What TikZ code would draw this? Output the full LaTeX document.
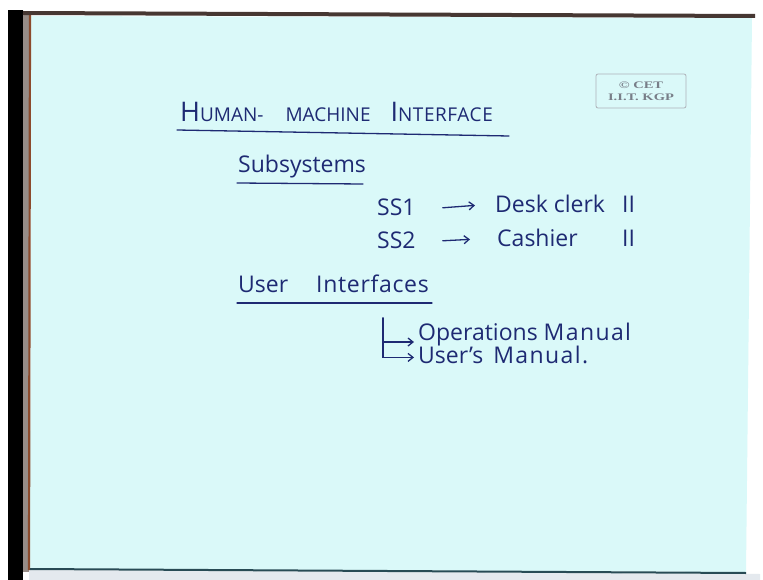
\documentclass[tikz,border=0pt]{standalone}
\usepackage{fontspec}
\setmainfont{Open Sans}
\newfontfamily\stampfont{Liberation Serif}
\usetikzlibrary{arrows.meta}
\definecolor{slide}{RGB}{218,249,249}
\definecolor{ink}{RGB}{30,42,115}
\definecolor{stampgray}{RGB}{120,126,136}
\definecolor{frame}{RGB}{70,55,50}
\definecolor{woodedge}{RGB}{140,75,45}
\definecolor{bottomedge}{RGB}{40,75,85}
\definecolor{sidegray}{RGB}{150,140,135}
\definecolor{floorgray}{RGB}{228,233,238}
% wider, hand-like spacing for a word
\newcommand{\wide}[2]{{\addfontfeature{LetterSpace=#1}#2}}
\begin{document}
\begin{tikzpicture}[x=1pt,y=-1pt,
  hand/.style={text=ink,inner sep=0pt,anchor=base west,font=\fontsize{23}{26}\selectfont},
  penline/.style={draw=ink,line width=1.3pt,line cap=round},
  penarrow/.style={penline,-{Straight Barb[length=5pt,width=8pt]}}]
\useasboundingbox (0,0) rectangle (763,580);
% surroundings of the slide
\fill[white] (0,0) rectangle (763,580);
\fill[black] (8,10) rectangle (23,580);
\fill[sidegray] (23,12) rectangle (29,572);
\fill[floorgray] (29,570) -- (760,574) -- (760,580) -- (29,580) -- cycle;
% the slide sheet
\fill[slide] (31,16) -- (752,18) -- (746,572) -- (30,569) -- cycle;
\draw[woodedge,line width=2.2pt] (30,14) -- (29,570);
\draw[frame,line width=4pt] (23,13) -- (755,16);
\draw[bottomedge,line width=2pt] (30,569) -- (746,573);

% stamp
\node[draw=stampgray!60,rounded corners=2pt,line width=0.8pt,minimum width=90pt,minimum height=34pt,
      inner sep=0pt,text=stampgray,align=center,font=\stampfont\fontsize{10}{12.5}\selectfont\bfseries]
      (stamp) at (641,91) {\scalebox{1.45}[1]{© CET}\\\scalebox{1.45}[1]{I.I.T. KGP}};

% heading
\node[hand] (title) at (180,122)
  {{\fontsize{27}{28}\selectfont H}{\fontsize{19}{20}\selectfont UMAN-\hspace{22pt}MACHINE\hspace{20pt}}{\fontsize{27}{28}\selectfont I}{\fontsize{19}{20}\selectfont\wide{3}{NTERFACE}}};
\draw[penline] (177,130) -- (509,136);

% subsystems
\node[hand] (subsys) at (238,173) {Subsystems};
\draw[penline] (237,183) -- (363,184);

\node[hand] (ss1) at (377,215) {SS1};
\node[hand] (desk) at (495,213) {Desk clerk};
\node[hand] (ditto1) at (622,213) {II};
\node[hand] (ss2) at (377,248) {SS2};
\node[hand] (cash) at (497,247) {Cashier};
\node[hand] (ditto2) at (622,247) {II};
\draw[penarrow] ([xshift=27pt,yshift=-1pt]ss1.east) -- ([xshift=-20pt,yshift=-1pt]desk.west);
\draw[penarrow] ([xshift=27pt,yshift=-1pt]ss2.east) -- ([xshift=-27pt,yshift=-1pt]cash.west);

% user interfaces
\node[hand] (ui) at (238,292) {User\hspace{28pt}\wide{3}{Interfaces}};
\draw[penline] (237,303) -- (432,303);

\coordinate (branch) at (383,318);
\node[hand] (ops) at (418,340) {Operations\hspace{6pt}\wide{6}{Manual}};
\node[hand] (users) at (418,363) {User's\hspace{10pt}\wide{6}{Manual.}};
\draw[penarrow,shorten >=4pt] (branch) |- ([yshift=-8pt]ops.west);
\draw[penarrow,shorten >=4pt] (branch) |- ([yshift=-3pt]users.west);
\end{tikzpicture}
\end{document}
